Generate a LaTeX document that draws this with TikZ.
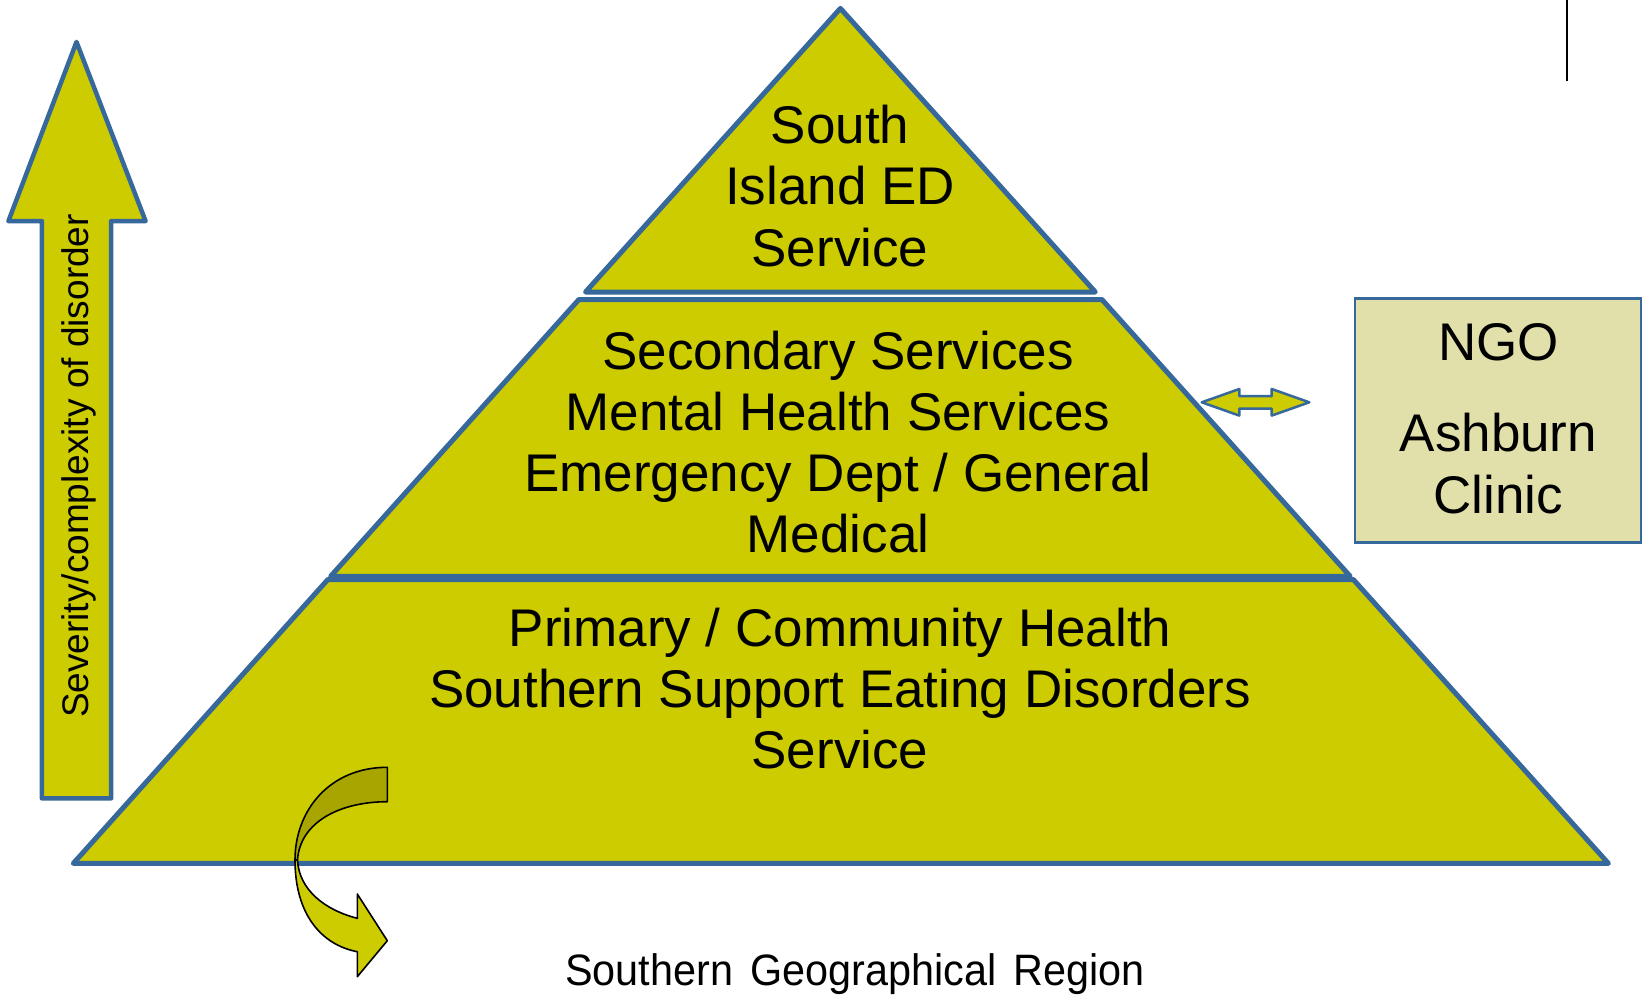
\documentclass[tikz,border=0pt]{standalone}
\usepackage{fontspec}
\setmainfont{Liberation Sans}
\definecolor{tierfill}{HTML}{CCCC00}
\definecolor{tierline}{HTML}{36689B}
\definecolor{ngofill}{HTML}{E2E0AA}
\definecolor{backfill}{HTML}{A8A500}
\tikzset{
  tier/.style={fill=tierfill, draw=tierline, line width=5pt, line join=round},
  tiertext/.style={align=center, font=\fontsize{53}{61.3}\selectfont, inner sep=0pt},
  bandpart/.style={draw=black, line width=1.6pt, line join=round},
}
\begin{document}
\begin{tikzpicture}[x=1pt,y=-1pt]
\useasboundingbox (0,0) rectangle (1643,996);

% pyramid tiers
\draw[tier] (840.4,8.4) -- (1095.3,292) -- (585.5,292) -- cycle;
\draw[tier] (578.9,299.5) -- (1101.9,299.5) -- (1350.2,576.3) -- (330.6,576.3) -- cycle;
\draw[tier] (327.8,579.6) -- (1353.4,579.6) -- (1608.4,863.4) -- (73.3,863.4) -- cycle;

\node[tiertext] (top) at (840,186) {South\\Island ED\\Service};
\node[tiertext] (mid) at (838,442) {Secondary Services\\Mental Health Services\\Emergency Dept / General\\Medical};
\node[tiertext] (base) at (840,688.5) {Primary / Community Health\\Southern Support Eating Disorders\\Service};

% severity arrow
\draw[tier, line width=4.5pt] (76.5,41.9) -- (145.6,221.1) -- (111.1,221.1) -- (111.1,798.4)
  -- (41.9,798.4) -- (41.9,221.1) -- (8.4,221.1) -- cycle;
\node[rotate=90, font=\fontsize{37}{44}\selectfont, inner sep=0pt] (sev) at (79,466)
  {Severity/complexity of disorder};

% NGO box
\node[draw=tierline, fill=ngofill, line width=2.5pt, minimum width=286pt, minimum height=244pt,
  inner sep=0pt] (ngo) at (1497.9,420.7) {};
\node[tiertext] (ngotext) at (1498.4,418.5) {NGO\\[30pt]Ashburn\\Clinic};

% two-way link between the middle tier and the NGO box
\draw[tier, line width=2.5pt] (1201.7,402.3) -- (1239.3,389) -- (1239.3,396.1) -- (1271.7,396.1)
  -- (1271.7,389) -- (1309.3,402.3) -- (1271.7,415.6) -- (1271.7,408.5) -- (1239.3,408.5)
  -- (1239.3,415.6) -- cycle;

% divider line top right
\coordinate (lt) at (1566.8,0);
\coordinate (lb) at (1566.8,81);
\draw[line width=2pt] (lt) -- (lb);

% curved arrow out of the region
\draw[bandpart, fill=backfill] (387.3,767.3) .. controls (330,767.3) and (295,810) .. (295,860)
  -- (297.5,860) .. controls (300,822) and (340,801.7) .. (387.3,801.7) -- cycle;
\draw[bandpart, fill=tierfill] (295,860) .. controls (295,915) and (322,945) .. (357.3,951.7)
  -- (357.3,976.7) -- (387.3,940.7) -- (357.3,894) -- (357.3,918.3)
  .. controls (325,910) and (299,890) .. (297.5,860) -- cycle;

\node[font=\fontsize{44}{52}\selectfont, inner sep=0pt] (region) at (855,974)
  {\scalebox{0.94}[1]{Southern\hspace{0.42em}Geographical\hspace{0.42em}Region}};
\end{tikzpicture}
\end{document}
